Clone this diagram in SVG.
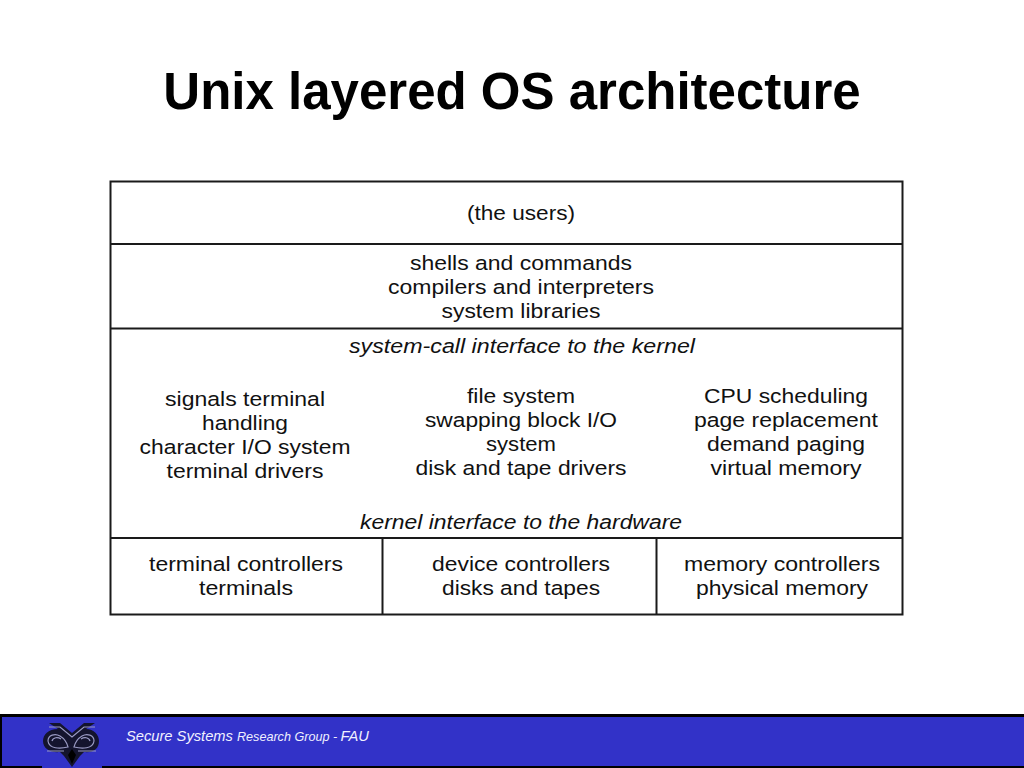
<svg xmlns="http://www.w3.org/2000/svg" width="1024" height="768" viewBox="0 0 1024 768">
<style>
text{font-family:"Liberation Sans",Arial,sans-serif;fill:#111;text-anchor:middle}
.t{font-size:20.500px}
.i{font-size:20.500px;font-style:italic}
.l{stroke:#1a1a1a;stroke-width:2;fill:none}
.g{fill:none;stroke:#9a9ac4;stroke-width:1.200}
</style>
<rect width="1024" height="768" fill="#fff"/>
<text id="title" x="512" y="109" style="font-size:51px;font-weight:bold;fill:#000">Unix layered OS architecture</text>
<g id="connectors">
<rect class="l" x="110.500" y="181.500" width="792" height="433"/>
<path class="l" d="M110 244H902M110 328.500H902M110 538H902M382.500 538V614M656.500 538V614"/>
</g>
<g id="users"><text class="t" x="521" y="220" textLength="108" lengthAdjust="spacingAndGlyphs">(the users)</text></g>
<g id="shells"><text class="t" x="521" y="270" textLength="222" lengthAdjust="spacingAndGlyphs">shells and commands</text><text class="t" x="521" y="294" textLength="266" lengthAdjust="spacingAndGlyphs">compilers and interpreters</text><text class="t" x="521" y="318" textLength="159" lengthAdjust="spacingAndGlyphs">system libraries</text></g>
<g id="syscall"><text class="i" x="522" y="353" textLength="346" lengthAdjust="spacingAndGlyphs">system-call interface to the kernel</text></g>
<g id="signals"><text class="t" x="245" y="406" textLength="160" lengthAdjust="spacingAndGlyphs">signals terminal</text><text class="t" x="245" y="430" textLength="86" lengthAdjust="spacingAndGlyphs">handling</text><text class="t" x="245" y="454" textLength="211" lengthAdjust="spacingAndGlyphs">character I/O system</text><text class="t" x="245" y="478" textLength="157" lengthAdjust="spacingAndGlyphs">terminal drivers</text></g>
<g id="filesystem"><text class="t" x="521" y="403" textLength="108" lengthAdjust="spacingAndGlyphs">file system</text><text class="t" x="521" y="427" textLength="192" lengthAdjust="spacingAndGlyphs">swapping block I/O</text><text class="t" x="521" y="451" textLength="70" lengthAdjust="spacingAndGlyphs">system</text><text class="t" x="521" y="475" textLength="211" lengthAdjust="spacingAndGlyphs">disk and tape drivers</text></g>
<g id="cpu"><text class="t" x="786" y="403" textLength="164" lengthAdjust="spacingAndGlyphs">CPU scheduling</text><text class="t" x="786" y="427" textLength="184" lengthAdjust="spacingAndGlyphs">page replacement</text><text class="t" x="786" y="451" textLength="158" lengthAdjust="spacingAndGlyphs">demand paging</text><text class="t" x="786" y="475" textLength="151" lengthAdjust="spacingAndGlyphs">virtual memory</text></g>
<g id="kernelhw"><text class="i" x="521" y="529" textLength="322" lengthAdjust="spacingAndGlyphs">kernel interface to the hardware</text></g>
<g id="terminal"><text class="t" x="246" y="571" textLength="194" lengthAdjust="spacingAndGlyphs">terminal controllers</text><text class="t" x="246" y="595" textLength="94" lengthAdjust="spacingAndGlyphs">terminals</text></g>
<g id="device"><text class="t" x="521" y="571" textLength="178" lengthAdjust="spacingAndGlyphs">device controllers</text><text class="t" x="521" y="595" textLength="158" lengthAdjust="spacingAndGlyphs">disks and tapes</text></g>
<g id="memory"><text class="t" x="782" y="571" textLength="196" lengthAdjust="spacingAndGlyphs">memory controllers</text><text class="t" x="782" y="595" textLength="172" lengthAdjust="spacingAndGlyphs">physical memory</text></g>
<g id="footer">
<rect x="0" y="714" width="1024" height="54" fill="#000"/>
<rect x="2" y="717" width="1022" height="49" fill="#3232c8"/>
<rect x="42" y="766" width="60" height="2" fill="#3232c8"/>
<g id="logo">
<path d="M72 733L60 723H49L58 729C48 729 43 735 43 741C43 749 51 753 60 752L64 756L72 767L80 756L84 752C93 753 99 749 99 741C99 735 94 729 86 729L95 723H84Z" fill="#14142e"/>
<path d="M48 741C48 735 55 733 60 736C65 739 67 743 68 747C60 749 49 749 48 741ZM94 741C94 735 87 733 82 736C77 739 75 743 74 747C82 749 93 749 94 741Z" fill="#000" class="g"/>
<path d="M52 741C53 737 58 737 61 739M90 741C89 737 84 737 81 739" class="g"/>
<path d="M49 727H60L72 737L84 727H95M47 751H64M78 751H96" class="g"/>
<path d="M72 749L76 755L72 764L68 755Z" fill="#000"/>
</g>
<text x="126" y="741" style="font-size:14.700px;font-style:italic;fill:#f0f0ff;text-anchor:start">Secure Systems <tspan style="font-size:12.600px">Research Group - </tspan>FAU</text>
</g>
</svg>
